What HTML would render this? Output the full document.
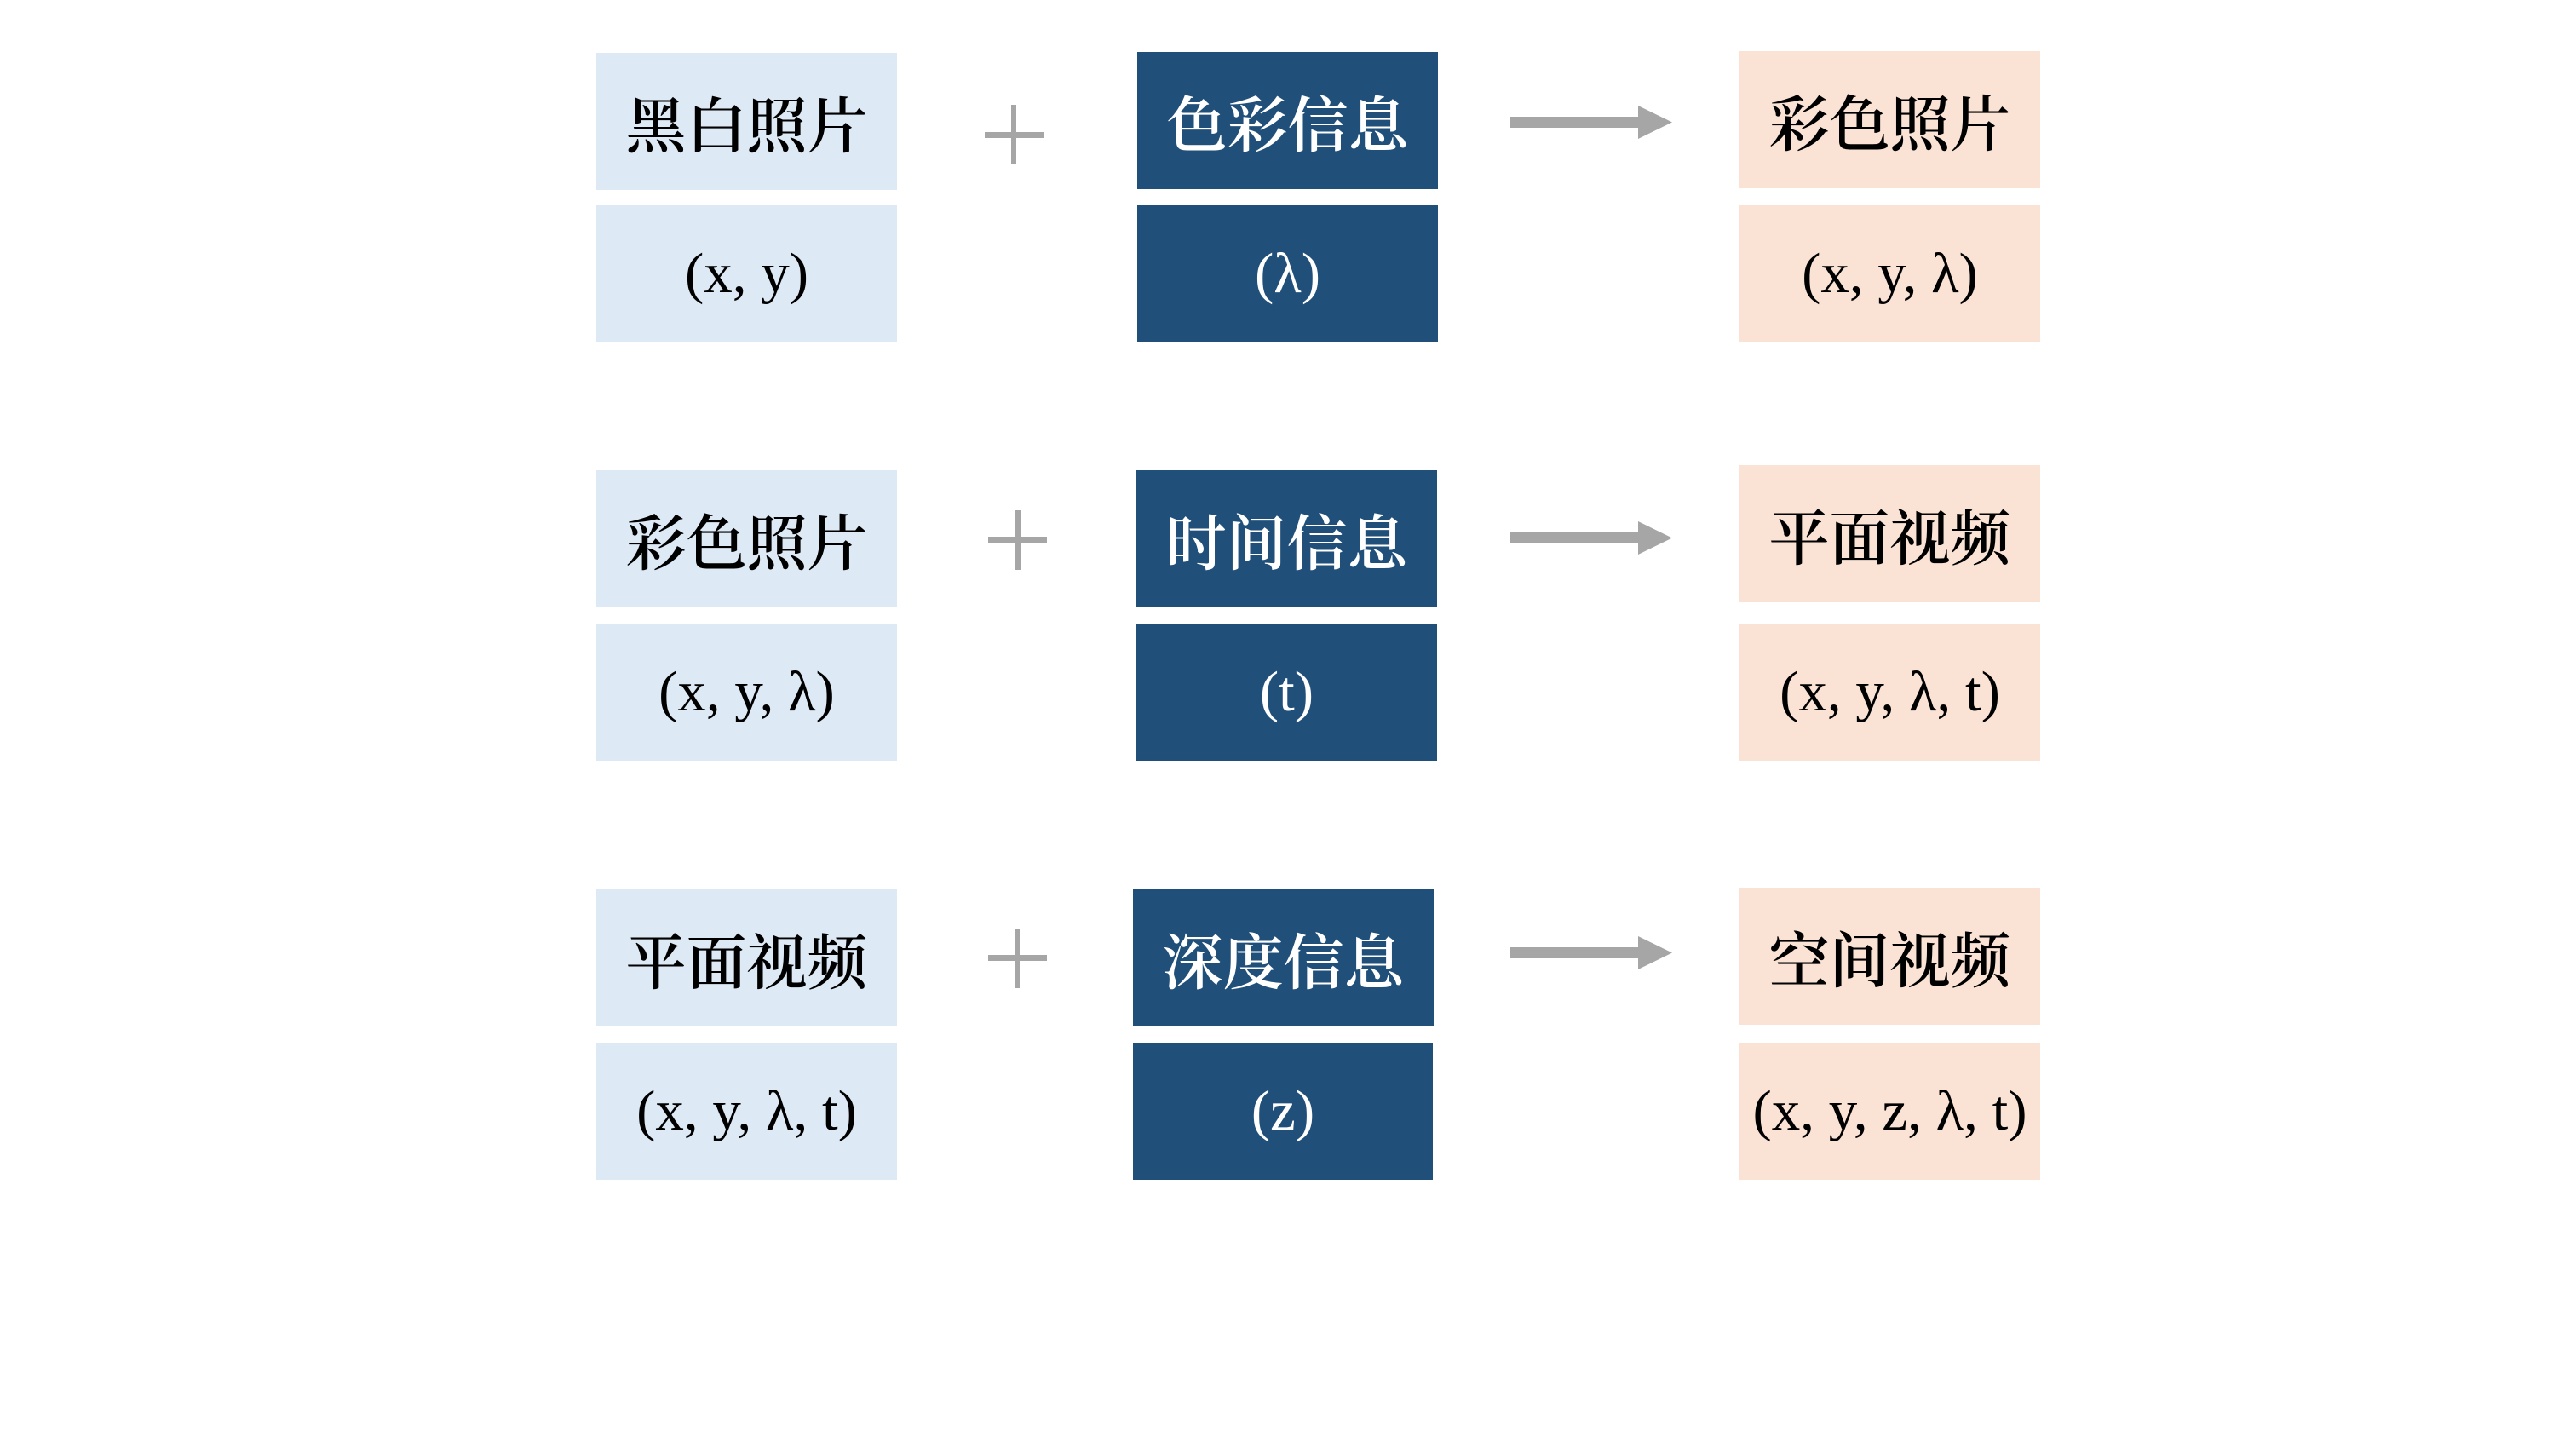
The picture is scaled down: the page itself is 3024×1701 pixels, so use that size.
<!DOCTYPE html>
<html><head><meta charset="utf-8"><style>
body{margin:0;width:3024px;height:1701px;background:#fff;position:relative;overflow:hidden}
.b{position:absolute;display:flex;align-items:center;justify-content:center;width:353px;height:161px}
.l{background:#dde9f5;color:#000}
.d{background:#204f7a;color:#fff}
.p{background:#fae3d5;color:#000}
.c{font-family:"Liberation Serif","Noto Serif CJK SC",serif;font-size:71px;font-weight:600}
.m{font-family:"Liberation Serif",serif;font-size:67px}
.pl{position:absolute;background:#a6a6a6}
</style></head><body>
<!-- row 1 -->
<div class="b l c" style="left:700px;top:62px">黑白照片</div>
<div class="b l m" style="left:700px;top:241px">(x, y)</div>
<div class="b d c" style="left:1335px;top:61px">色彩信息</div>
<div class="b d m" style="left:1335px;top:241px">(λ)</div>
<div class="b p c" style="left:2042px;top:60px">彩色照片</div>
<div class="b p m" style="left:2042px;top:241px">(x, y, λ)</div>
<div class="pl" style="left:1187px;top:123px;width:6px;height:70px"></div>
<div class="pl" style="left:1156px;top:155px;width:69px;height:7px"></div>
<svg style="position:absolute;left:1773px;top:122px" width="300" height="44"><rect x="0" y="15" width="160" height="13" fill="#a6a6a6"/><polygon points="150,2 190,21.5 150,41" fill="#a6a6a6"/></svg>
<!-- row 2 -->
<div class="b l c" style="left:700px;top:552px">彩色照片</div>
<div class="b l m" style="left:700px;top:732px">(x, y, λ)</div>
<div class="b d c" style="left:1334px;top:552px">时间信息</div>
<div class="b d m" style="left:1334px;top:732px">(t)</div>
<div class="b p c" style="left:2042px;top:546px">平面视频</div>
<div class="b p m" style="left:2042px;top:732px">(x, y, λ, t)</div>
<div class="pl" style="left:1192px;top:599px;width:6px;height:70px"></div>
<div class="pl" style="left:1160px;top:630px;width:69px;height:7px"></div>
<svg style="position:absolute;left:1773px;top:610px" width="300" height="44"><rect x="0" y="15" width="160" height="13" fill="#a6a6a6"/><polygon points="150,2 190,21.5 150,41" fill="#a6a6a6"/></svg>
<!-- row 3 -->
<div class="b l c" style="left:700px;top:1044px">平面视频</div>
<div class="b l m" style="left:700px;top:1224px">(x, y, λ, t)</div>
<div class="b d c" style="left:1330px;top:1044px">深度信息</div>
<div class="b d m" style="left:1330px;top:1224px;width:352px">(z)</div>
<div class="b p c" style="left:2042px;top:1042px">空间视频</div>
<div class="b p m" style="left:2042px;top:1224px">(x, y, z, λ, t)</div>
<div class="pl" style="left:1191px;top:1090px;width:6px;height:70px"></div>
<div class="pl" style="left:1160px;top:1121px;width:69px;height:7px"></div>
<svg style="position:absolute;left:1773px;top:1097px" width="300" height="44"><rect x="0" y="15" width="160" height="13" fill="#a6a6a6"/><polygon points="150,2 190,21.5 150,41" fill="#a6a6a6"/></svg>
</body></html>
